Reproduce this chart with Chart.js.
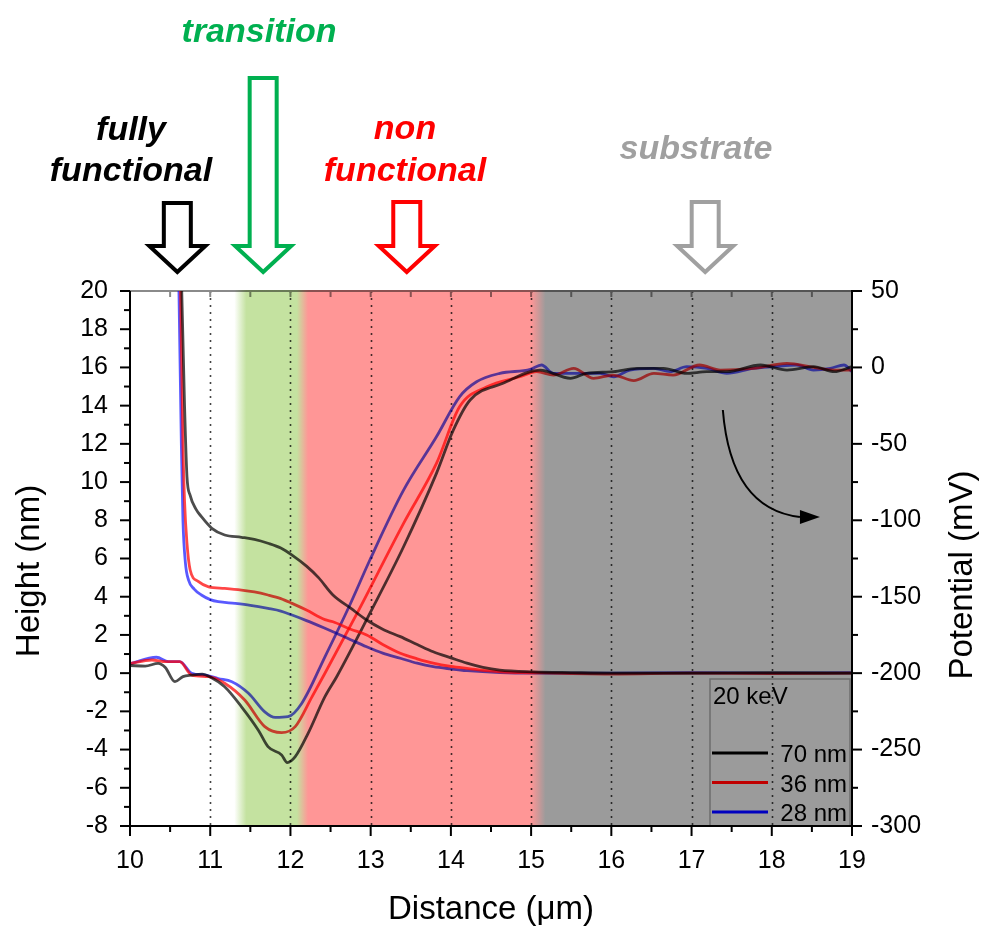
<!DOCTYPE html>
<html>
<head>
<meta charset="utf-8">
<script src="https://cdn.jsdelivr.net/npm/chart.js@4.4.1/dist/chart.umd.min.js"></script>
<style>
  body { margin: 0; background: #fff; }
  canvas { display: block; }
</style>
</head>
<body>
<canvas id="chart" width="984" height="929"></canvas>
<script>
// ---- data: [distance (um), value] ----
// height profiles (nm), left axis
const height70 = [[10.6, 30], [10.645, 20], [10.68, 14], [10.71, 10.3], [10.75, 9.3], [10.82, 8.6], [10.89, 8.19], [11.02, 7.58], [11.18, 7.23], [11.39, 7.11], [11.55, 7.0], [11.72, 6.8], [11.88, 6.55], [12.02, 6.18], [12.2, 5.6], [12.35, 5.0], [12.53, 4.09], [12.75, 3.4], [12.95, 2.78], [13.15, 2.3], [13.37, 1.91], [13.58, 1.5], [13.78, 1.12], [14.0, 0.8], [14.2, 0.52], [14.4, 0.3], [14.61, 0.16], [15.03, 0.07], [15.5, 0.03], [16, 0.0], [17, 0.0], [18, 0.02], [19, 0.0]];
const height36 = [[10.6, 30], [10.63, 20], [10.66, 12], [10.68, 9], [10.71, 6.8], [10.75, 5.4], [10.85, 4.8], [10.98, 4.52], [11.18, 4.44], [11.39, 4.35], [11.55, 4.25], [11.72, 4.09], [11.88, 3.9], [12.02, 3.65], [12.2, 3.3], [12.43, 2.8], [12.53, 2.69], [12.75, 2.3], [12.95, 2.0], [13.15, 1.5], [13.37, 1.04], [13.58, 0.75], [13.78, 0.52], [14.0, 0.35], [14.2, 0.25], [14.61, 0.07], [15.0, 0.02], [16, -0.05], [17, 0.0], [18, -0.03], [19, 0.0]];
const height28 = [[10.58, 30], [10.61, 20], [10.64, 12], [10.66, 8], [10.69, 5.8], [10.73, 4.87], [10.8, 4.4], [10.89, 4.09], [11.0, 3.85], [11.1, 3.74], [11.31, 3.65], [11.5, 3.55], [11.72, 3.39], [11.88, 3.25], [12.02, 3.04], [12.2, 2.75], [12.43, 2.35], [12.53, 2.17], [12.75, 1.75], [12.95, 1.38], [13.15, 1.05], [13.37, 0.78], [13.58, 0.52], [13.78, 0.34], [14.0, 0.22], [14.2, 0.13], [14.61, 0.03], [15, 0.0], [16, 0.0], [17, 0.02], [18, 0.0], [19, 0.02]];

// surface potential (mV), right axis
const potential70 = [[10.0, -195], [10.19, -195.4], [10.35, -193.6], [10.44, -196.3], [10.56, -205.6], [10.66, -202.3], [10.77, -201.3], [10.9, -200.6], [11.0, -202.5], [11.18, -208.9], [11.39, -222], [11.6, -237.3], [11.72, -248.1], [11.89, -253.5], [11.96, -258.5], [12.06, -254.6], [12.22, -239.4], [12.43, -215.4], [12.58, -202], [12.99, -160.9], [13.41, -117.3], [13.82, -69.3], [14.03, -41], [14.24, -21.3], [14.65, -10.4], [15.11, -1.7], [15.49, -7.1], [15.69, -3.9], [16.03, -2.8], [16.32, -0.6], [16.65, -0.6], [16.94, -3.9], [17.19, -2.8], [17.44, -2.8], [17.86, 1.6], [18.19, -1.7], [18.52, 0.5], [18.78, -2.8], [19.0, 0.5]];
const potential36 = [[10.0, -193.8], [10.27, -191.4], [10.45, -192.5], [10.62, -192.5], [10.77, -201.3], [10.98, -202.3], [11.18, -206.6], [11.43, -217.6], [11.68, -235], [11.89, -238.9], [12.06, -235], [12.27, -215.4], [12.43, -200.1], [12.83, -160.9], [13.41, -102], [13.82, -62.8], [14.11, -25.6], [14.45, -12.6], [14.86, -6.1], [15.07, -2.8], [15.28, -5], [15.53, -0.6], [15.78, -7.1], [16.02, -5], [16.28, -8.6], [16.53, -3.9], [16.77, -5], [17.1, 1.6], [17.36, -1.7], [17.77, -0.6], [18.19, 2.6], [18.52, 0], [18.78, -1.7], [19.0, -1.7]];
const potential28 = [[10.0, -193.8], [10.33, -189.6], [10.48, -192.5], [10.62, -192.5], [10.77, -200.1], [10.94, -201.3], [11.1, -203.5], [11.27, -205.6], [11.48, -213.3], [11.68, -225.3], [11.81, -229], [11.97, -228.5], [12.14, -219.8], [12.43, -189.3], [12.74, -155.4], [12.99, -126], [13.41, -80.3], [13.82, -45.4], [14.11, -19.1], [14.32, -9.4], [14.61, -3.9], [14.99, -1.3], [15.13, 1.6], [15.28, -3.9], [15.61, -3.9], [15.86, -3.9], [16.03, -6.1], [16.23, -1.7], [16.53, -0.6], [16.73, -2.8], [16.94, 0.5], [17.19, -0.6], [17.44, -3.9], [17.77, -0.6], [18.02, 0.5], [18.31, 1.6], [18.52, -1.7], [18.73, -0.6], [18.9, 1.6], [19.0, -2.8]];

const seriesNames = ['70 nm', '36 nm', '28 nm'];
const seriesColors = ['rgba(0,0,0,0.7)', 'rgba(255,0,0,0.72)', 'rgba(0,0,255,0.65)'];
const legendColors = ['#000000', '#c00000', '#0000c0'];

// regions along the distance axis
const bandStops = [[11.3, '#ffffff'], [11.45, '#c4e2a0'], [12.08, '#c4e2a0'], [12.22, '#ff9696'], [15.0, '#ff9696'], [15.18, '#9b9b9b'], [19, '#9b9b9b']];
const verticalGrid = [11, 12, 13, 14, 15, 16, 17, 18];

const FONT = "'Liberation Sans', Arial, sans-serif";

const toPts = arr => arr.map(p => ({ x: p[0], y: p[1] }));

function lineSet(label, data, color, axis) {
    return {
        label: label,
        data: toPts(data),
        yAxisID: axis,
        borderColor: color,
        borderWidth: 2.8,
        pointRadius: 0,
        fill: false,
        cubicInterpolationMode: 'monotone'
    };
}

// hollow block arrow pointing down
function blockArrow(ctx, cx, top, tip, color) {
    const sw = 27, hw = 56, hh = 26;
    ctx.save();
    ctx.strokeStyle = color;
    ctx.lineWidth = 4;
    ctx.lineJoin = 'miter';
    ctx.beginPath();
    ctx.moveTo(cx - sw / 2, top);
    ctx.lineTo(cx + sw / 2, top);
    ctx.lineTo(cx + sw / 2, tip - hh);
    ctx.lineTo(cx + hw / 2, tip - hh);
    ctx.lineTo(cx, tip);
    ctx.lineTo(cx - hw / 2, tip - hh);
    ctx.lineTo(cx - sw / 2, tip - hh);
    ctx.closePath();
    ctx.stroke();
    ctx.restore();
}

const frame = {
    id: 'frame',
    beforeDraw(chart) {
        const ctx = chart.ctx;
        ctx.save();
        ctx.fillStyle = '#fff';
        ctx.fillRect(0, 0, chart.width, chart.height);
        ctx.restore();
    },
    beforeDatasetsDraw(chart) {
        const { ctx, chartArea: a, scales: { x } } = chart;
        ctx.save();
        // dotted vertical lines
        ctx.strokeStyle = '#444';
        ctx.lineWidth = 1.6;
        ctx.setLineDash([2, 5]);
        verticalGrid.forEach(v => {
            const px = Math.round(x.getPixelForValue(v)) + 0.5;
            ctx.beginPath();
            ctx.moveTo(px, a.top);
            ctx.lineTo(px, a.bottom);
            ctx.stroke();
        });
        ctx.setLineDash([]);
        // top border with inward ticks
        ctx.strokeStyle = '#8a8a8a';
        ctx.lineWidth = 2;
        ctx.beginPath();
        ctx.moveTo(a.left, a.top);
        ctx.lineTo(a.right, a.top);
        ctx.stroke();
        for (let v = 10.5; v < 19; v += 0.5) {
            const px = x.getPixelForValue(v);
            ctx.beginPath();
            ctx.moveTo(px, a.top);
            ctx.lineTo(px, a.top + 6);
            ctx.stroke();
        }
        ctx.restore();
    },
    afterDatasetsDraw(chart) {
        const { ctx, chartArea: a, scales: { x, y } } = chart;
        // coloured regions, multiplied over the curves
        const x0 = x.getPixelForValue(bandStops[0][0]);
        const x1 = x.getPixelForValue(bandStops[bandStops.length - 1][0]);
        const grad = ctx.createLinearGradient(x0, 0, x1, 0);
        bandStops.forEach(s => grad.addColorStop((x.getPixelForValue(s[0]) - x0) / (x1 - x0), s[1]));
        ctx.save();
        ctx.globalCompositeOperation = 'multiply';
        ctx.fillStyle = grad;
        ctx.fillRect(x0, a.top - 1, x1 - x0, a.bottom - a.top + 1);
        ctx.restore();

        // legend box
        ctx.save();
        const bx = a.right - 142, by = a.bottom - 147;
        ctx.strokeStyle = '#6e6e6e';
        ctx.lineWidth = 1.5;
        ctx.strokeRect(bx, by, 140, 147);
        ctx.fillStyle = '#000';
        ctx.font = '24px ' + FONT;
        ctx.textBaseline = 'alphabetic';
        ctx.textAlign = 'left';
        ctx.fillText('20 keV', bx + 3, by + 25);
        seriesNames.forEach((n, i) => {
            const ly = by + 74 + i * 29.5;
            ctx.strokeStyle = legendColors[i];
            ctx.lineWidth = 2.8;
            ctx.beginPath();
            ctx.moveTo(bx + 2, ly);
            ctx.lineTo(bx + 58, ly);
            ctx.stroke();
            ctx.textAlign = 'right';
            ctx.fillText(n, bx + 137, ly + 9);
        });
        ctx.restore();

        // curved arrow pointing to the right axis
        ctx.save();
        const sx = x.getPixelForValue(17.39), sy = y.getPixelForValue(13.77);
        const ex = x.getPixelForValue(18.6), ey = y.getPixelForValue(8.17);
        ctx.strokeStyle = '#000';
        ctx.lineWidth = 2;
        ctx.beginPath();
        ctx.moveTo(sx, sy);
        ctx.quadraticCurveTo(sx + 8, ey - 8, ex - 20, ey);
        ctx.stroke();
        ctx.fillStyle = '#000';
        ctx.beginPath();
        ctx.moveTo(ex, ey);
        ctx.lineTo(ex - 20, ey - 7);
        ctx.lineTo(ex - 20, ey + 7);
        ctx.closePath();
        ctx.fill();
        ctx.restore();

        // axes with outward ticks
        ctx.save();
        ctx.strokeStyle = '#000';
        ctx.lineWidth = 2;
        ctx.beginPath();
        ctx.moveTo(a.left, a.top);
        ctx.lineTo(a.left, a.bottom);
        ctx.lineTo(a.right, a.bottom);
        ctx.lineTo(a.right, a.top - 1);
        ctx.stroke();
        for (let v = -8; v <= 20; v += 1) {
            const py = y.getPixelForValue(v);
            const len = v % 2 === 0 ? 10 : 6;
            ctx.beginPath();
            ctx.moveTo(a.left, py);
            ctx.lineTo(a.left - len, py);
            ctx.stroke();
        }
        for (let v = 10; v <= 19; v += 0.5) {
            const px = x.getPixelForValue(v);
            const len = Number.isInteger(v) ? 10 : 6;
            ctx.beginPath();
            ctx.moveTo(px, a.bottom);
            ctx.lineTo(px, a.bottom + len);
            ctx.stroke();
        }
        const y2 = chart.scales.y2;
        for (let v = -300; v <= 50; v += 25) {
            const py = y2.getPixelForValue(v);
            const len = v % 50 === 0 ? 10 : 6;
            ctx.beginPath();
            ctx.moveTo(a.right, py);
            ctx.lineTo(a.right + len, py);
            ctx.stroke();
        }
        ctx.restore();
    },
    afterDraw(chart) {
        const { ctx, chartArea: a, scales: { x } } = chart;
        ctx.save();
        ctx.fillStyle = '#000';
        ctx.textAlign = 'center';
        ctx.textBaseline = 'middle';
        ctx.font = '33px ' + FONT;
        ctx.fillText('Distance (\u03bcm)', (a.left + a.right) / 2, 910);
        ctx.save();
        ctx.translate(30, 571);
        ctx.rotate(-Math.PI / 2);
        ctx.fillText('Height (nm)', 0, 0);
        ctx.restore();
        ctx.save();
        ctx.translate(963, 575);
        ctx.rotate(-Math.PI / 2);
        ctx.fillText('Potential (mV)', 0, 0);
        ctx.restore();

        // region labels and arrows
        ctx.textBaseline = 'alphabetic';
        ctx.font = 'italic bold 34px ' + FONT;
        ctx.fillStyle = '#000';
        ctx.fillText('fully', 131, 140);
        ctx.fillText('functional', 131, 181);
        ctx.fillStyle = '#00b050';
        ctx.fillText('transition', 259, 42);
        ctx.fillStyle = '#ff0000';
        ctx.fillText('non', 405, 139);
        ctx.fillText('functional', 405, 181);
        ctx.fillStyle = '#a0a0a0';
        ctx.fillText('substrate', 696, 159);
        ctx.restore();

        blockArrow(ctx, x.getPixelForValue(10.59), 203, 272, '#000000');
        blockArrow(ctx, x.getPixelForValue(11.66), 78, 272, '#00b050');
        blockArrow(ctx, x.getPixelForValue(13.45), 202, 272, '#ff0000');
        blockArrow(ctx, x.getPixelForValue(17.17), 202, 272, '#a0a0a0');
    }
};

const tickFont = { family: FONT, size: 25 };

new Chart(document.getElementById('chart'), {
    type: 'line',
    data: {
        datasets: [
            lineSet('h ' + seriesNames[0], height70, seriesColors[0], 'y'),
            lineSet('h ' + seriesNames[1], height36, seriesColors[1], 'y'),
            lineSet('h ' + seriesNames[2], height28, seriesColors[2], 'y'),
            lineSet('p ' + seriesNames[0], potential70, seriesColors[0], 'y2'),
            lineSet('p ' + seriesNames[1], potential36, seriesColors[1], 'y2'),
            lineSet('p ' + seriesNames[2], potential28, seriesColors[2], 'y2')
        ]
    },
    options: {
        responsive: false,
        animation: false,
        layout: { padding: { top: 291, left: 0, right: 0, bottom: 0 } },
        plugins: { legend: { display: false }, tooltip: { enabled: false } },
        scales: {
            x: {
                type: 'linear', min: 10, max: 19,
                grid: { display: false, drawTicks: false },
                border: { display: false },
                ticks: { stepSize: 1, font: tickFont, color: '#000', padding: 20, maxRotation: 0 },
                afterFit: s => { s.height = 103; }
            },
            y: {
                position: 'left', min: -8, max: 20,
                grid: { display: false, drawTicks: false },
                border: { display: false },
                ticks: { stepSize: 2, font: tickFont, color: '#000', padding: 22 },
                afterFit: s => { s.width = 130; }
            },
            y2: {
                position: 'right', min: -300, max: 50,
                grid: { display: false, drawTicks: false },
                border: { display: false },
                ticks: { stepSize: 50, font: tickFont, color: '#000', padding: 19 },
                afterFit: s => { s.width = 132; }
            }
        }
    },
    plugins: [frame]
});
</script>
</body>
</html>
